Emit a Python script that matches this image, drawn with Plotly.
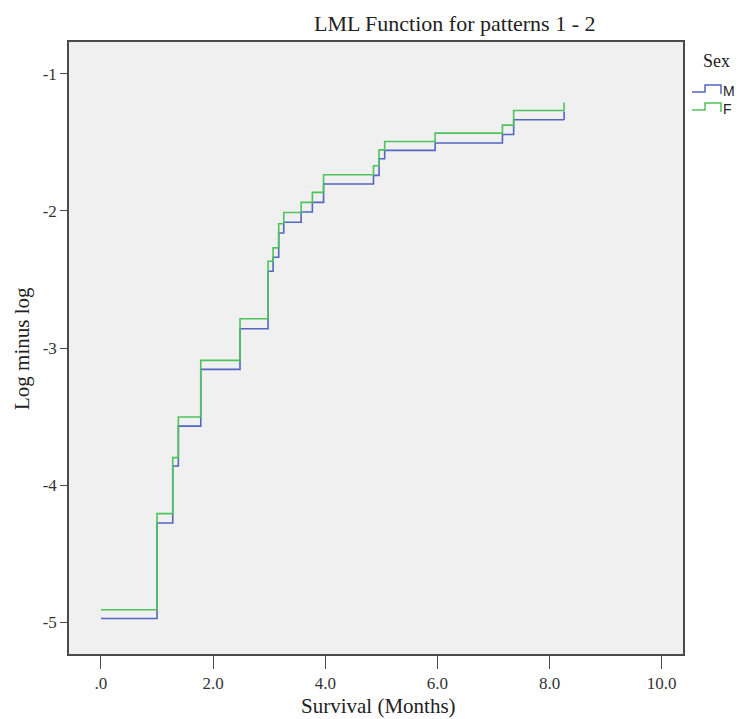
import plotly.graph_objects as go

# Step change points (months) shared by both groups
step_times = [0.0, 1.0, 1.28, 1.38, 1.78, 2.48, 2.98, 3.07, 3.17, 3.26, 3.57,
              3.77, 3.97, 4.86, 4.96, 5.06, 5.96, 7.16, 7.36, 8.26]

# Log minus log estimates per sex
lml_male = [-4.971, -4.275, -3.860, -3.569, -3.156, -2.860, -2.441, -2.339,
            -2.162, -2.084, -2.009, -1.939, -1.805, -1.742, -1.621, -1.560,
            -1.506, -1.444, -1.337, -1.277]
lml_female = [-4.908, -4.207, -3.799, -3.503, -3.090, -2.787, -2.368, -2.270,
              -2.094, -2.012, -1.939, -1.866, -1.737, -1.672, -1.556, -1.495,
              -1.434, -1.376, -1.269, -1.211]

x_ticks = [0, 2, 4, 6, 8, 10]
x_tick_labels = [".0", "2.0", "4.0", "6.0", "8.0", "10.0"]
y_ticks = [-1, -2, -3, -4, -5]
y_tick_labels = ["-1", "-2", "-3", "-4", "-5"]

BLUE = "#5266c2"
GREEN = "#4cc45a"
SERIF = "Liberation Serif, Times New Roman, serif"
SANS = "Liberation Sans, Arial, sans-serif"

W, H = 741, 719
L, R, T, B = 69, 683, 42, 654


def px(x):
    return (x - L) / (R - L)


def py(y):
    return (B - y) / (B - T)


def step_icon(x0, y_low, y_high):
    pts = [(x0, y_low), (x0 + 13, y_low), (x0 + 13, y_high),
           (x0 + 29, y_high), (x0 + 29, y_low + 2)]
    return "M " + " L ".join(f"{px(a):.5f},{py(b):.5f}" for a, b in pts)


def label(text, x, y, size, family=SERIF, xanchor="center", angle=0):
    return dict(text=text, x=px(x), y=py(y), xref="paper", yref="paper",
                xanchor=xanchor, yanchor="middle", textangle=angle,
                showarrow=False, font=dict(family=family, size=size, color="#222222"))


fig = go.Figure()
# hazard curves drawn as right-continuous steps
fig.add_trace(go.Scatter(x=step_times, y=[lml_male[0]] + lml_male[:-1],
                         mode="lines", line=dict(color=BLUE, width=1.6, shape="vh"),
                         name="M", hoverinfo="skip"))
fig.add_trace(go.Scatter(x=step_times, y=[lml_female[0]] + lml_female[:-1],
                         mode="lines", line=dict(color=GREEN, width=1.6, shape="vh"),
                         name="F", hoverinfo="skip"))
# final vertical rise at the last event time
fig.add_trace(go.Scatter(x=[step_times[-1], step_times[-1]],
                         y=[lml_male[-2], lml_male[-1]], mode="lines",
                         line=dict(color=BLUE, width=1.6), hoverinfo="skip"))
fig.add_trace(go.Scatter(x=[step_times[-1], step_times[-1]],
                         y=[lml_female[-2], lml_female[-1]], mode="lines",
                         line=dict(color=GREEN, width=1.6), hoverinfo="skip"))

axis_common = dict(showline=True, mirror=True, linecolor="#4a4a4a", linewidth=1.5,
                   ticks="outside", tickcolor="#4a4a4a", tickwidth=1.3,
                   showgrid=False, zeroline=False,
                   tickfont=dict(family=SERIF, size=17, color="#333333"))

fig.update_layout(
    width=W, height=H,
    margin=dict(l=L, r=W - R, t=T, b=H - B),
    paper_bgcolor="white", plot_bgcolor="#f0f0f0",
    showlegend=False,
    xaxis=dict(range=[-0.57, 10.38], tickvals=x_ticks, ticktext=x_tick_labels,
               ticklen=13, **axis_common),
    yaxis=dict(range=[-5.23, -0.77], tickvals=y_ticks, ticktext=y_tick_labels,
               ticklen=7, **axis_common),
    annotations=[
        label("LML Function for patterns 1 - 2", 455, 23, 22),
        label("Survival (Months)", 378, 706, 21),
        label("Log minus log", 22, 348, 21, angle=-90),
        label("Sex", 701, 61, 18, xanchor="left"),
        label("M", 721, 91, 14, family=SANS, xanchor="left"),
        label("F", 721, 109, 14, family=SANS, xanchor="left"),
    ],
    shapes=[
        dict(type="path", xref="paper", yref="paper", path=step_icon(692, 92, 85),
             line=dict(color=BLUE, width=1.5)),
        dict(type="path", xref="paper", yref="paper", path=step_icon(692, 110, 103),
             line=dict(color=GREEN, width=1.5)),
    ],
)

fig.write_html("out.html")
